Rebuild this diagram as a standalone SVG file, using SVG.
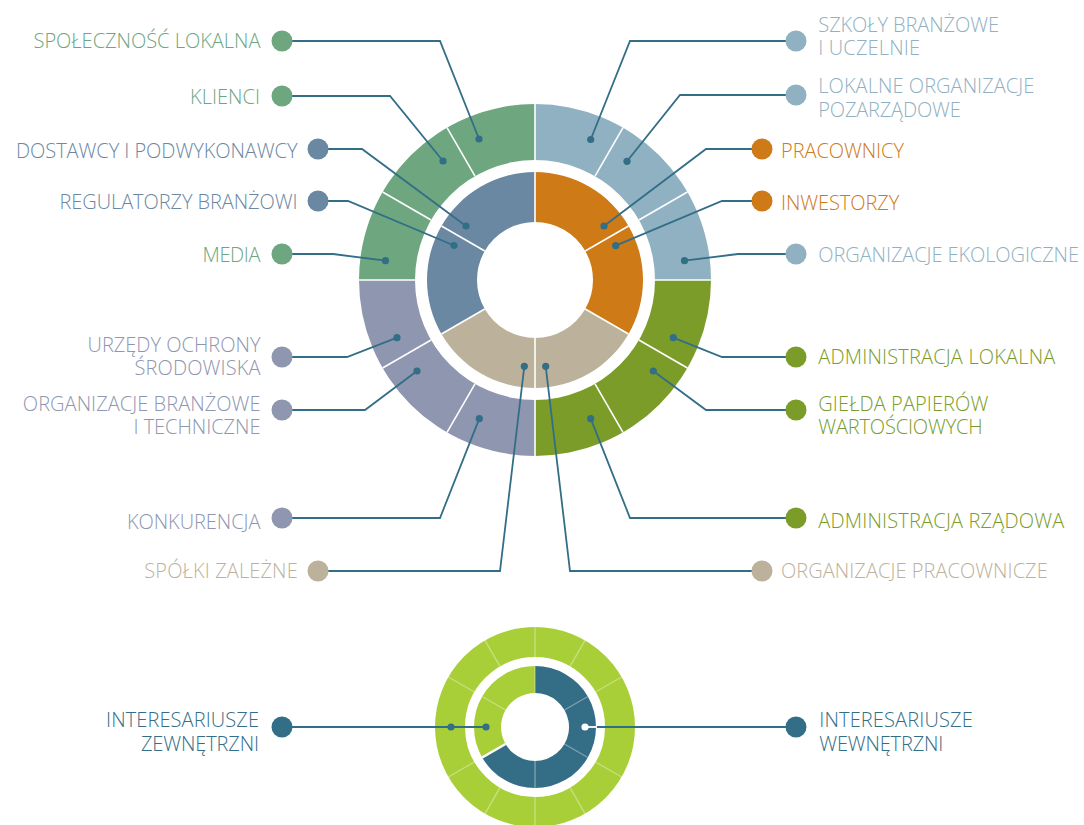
<svg xmlns="http://www.w3.org/2000/svg" width="1084" height="825" viewBox="0 0 1084 825">
<style>
text{font-family:"Open Sans","Liberation Sans",sans-serif;font-weight:300;font-size:20px}
.l{text-anchor:end}
.gr{fill:#6DA67F}.sl{fill:#6B88A3}.lb{fill:#8FB1C1}.or{fill:#CE7A16}.ol{fill:#7B9C29}.pu{fill:#8E96B0}.be{fill:#BCB29B}.te{fill:#336E87}
.div{stroke:#fff;stroke-width:1.6}
.fdiv{stroke:#fff;stroke-opacity:0.35;stroke-width:1.4}
.con{fill:none;stroke:#336E87;stroke-width:1.8}
.sd{fill:#336E87}
</style>
<rect width="1084" height="825" fill="#fff"/>
<g id="main-donut">
<path class="lb" d="M535,104 A176,176 0 0 1 711,280 L655,280 A120,120 0 0 0 535,160 Z"/>
<path class="ol" d="M711,280 A176,176 0 0 1 535,456 L535,400 A120,120 0 0 0 655,280 Z"/>
<path class="pu" d="M535,456 A176,176 0 0 1 359,280 L415,280 A120,120 0 0 0 535,400 Z"/>
<path class="gr" d="M359,280 A176,176 0 0 1 535,104 L535,160 A120,120 0 0 0 415,280 Z"/>
<g class="div">
<line x1="535" y1="160" x2="535" y2="104"/>
<line x1="595" y1="176.08" x2="623" y2="127.58"/>
<line x1="638.92" y1="220" x2="687.42" y2="192"/>
<line x1="655" y1="280" x2="711" y2="280"/>
<line x1="638.92" y1="340" x2="687.42" y2="368"/>
<line x1="595" y1="383.92" x2="623" y2="432.42"/>
<line x1="535" y1="400" x2="535" y2="456"/>
<line x1="475" y1="383.92" x2="447" y2="432.42"/>
<line x1="431.08" y1="340" x2="382.58" y2="368"/>
<line x1="415" y1="280" x2="359" y2="280"/>
<line x1="431.08" y1="220" x2="382.58" y2="192"/>
<line x1="475" y1="176.08" x2="447" y2="127.58"/>
</g>
<path class="or" d="M535,172 A108,108 0 0 1 628.53,334 L585.23,309 A58,58 0 0 0 535,222 Z"/>
<path class="be" d="M628.53,334 A108,108 0 0 1 441.47,334 L484.77,309 A58,58 0 0 0 585.23,309 Z"/>
<path class="sl" d="M441.47,334 A108,108 0 0 1 535,172 L535,222 A58,58 0 0 0 484.77,309 Z"/>
<g class="div">
<line x1="535" y1="222" x2="535" y2="172"/>
<line x1="585.23" y1="251" x2="628.53" y2="226"/>
<line x1="585.23" y1="309" x2="628.53" y2="334"/>
<line x1="535" y1="338" x2="535" y2="388"/>
<line x1="484.77" y1="309" x2="441.47" y2="334"/>
<line x1="484.77" y1="251" x2="441.47" y2="226"/>
</g>
</g>
<g id="small-donut">
<circle cx="535" cy="727" r="85" fill="none" stroke="#A8CF38" stroke-width="30"/>
<g class="fdiv">
<line x1="535" y1="697" x2="535" y2="627"/>
<line x1="570" y1="666.38" x2="585" y2="640.4"/>
<line x1="595.62" y1="692" x2="621.6" y2="677"/>
<line x1="605" y1="727" x2="635" y2="727"/>
<line x1="595.62" y1="762" x2="621.6" y2="777"/>
<line x1="570" y1="787.62" x2="585" y2="813.6"/>
<line x1="535" y1="797" x2="535" y2="827"/>
<line x1="500" y1="787.62" x2="485" y2="813.6"/>
<line x1="474.38" y1="762" x2="448.4" y2="777"/>
<line x1="465" y1="727" x2="435" y2="727"/>
<line x1="474.38" y1="692" x2="448.4" y2="677"/>
<line x1="500" y1="666.38" x2="485" y2="640.4"/>
</g>
<path fill="#346E86" d="M535,666 A61,61 0 1 1 482.17,757.5 L505.56,744 A34,34 0 1 0 535,693 Z"/>
<path fill="#A8CF38" d="M482.17,757.5 A61,61 0 0 1 535,666 L535,693 A34,34 0 0 0 505.56,744 Z"/>
<g class="fdiv">
<line x1="535" y1="693" x2="535" y2="666"/>
<line x1="564.44" y1="710" x2="587.83" y2="696.5"/>
<line x1="564.44" y1="744" x2="587.83" y2="757.5"/>
<line x1="535" y1="761" x2="535" y2="788"/>
<line x1="505.56" y1="710" x2="482.17" y2="696.5"/>
</g>
<line x1="505.56" y1="744" x2="482.17" y2="757.5" stroke="#fff" stroke-width="2.5"/>
</g>
<g id="connectors">
<polyline class="con" points="282,41 440,41 479,139"/>
<polyline class="con" points="282,96 390,96 443,161"/>
<polyline class="con" points="318,149 362,149 466,226"/>
<polyline class="con" points="318,201 348,201 454,245.5"/>
<polyline class="con" points="282,254 333,254 385.5,260.7"/>
<polyline class="con" points="282,357 347,357 397,337.7"/>
<polyline class="con" points="282,410 365,410 417,371"/>
<polyline class="con" points="282,518 440,518 479.3,418.7"/>
<polyline class="con" points="318,571 500,571 524.3,366.3"/>
<polyline class="con" points="796,41 630,41 590.7,139.5"/>
<polyline class="con" points="796,95 680,95 627,161.3"/>
<polyline class="con" points="762,149 706,149 604,226"/>
<polyline class="con" points="762,201 722,201 615.7,245.7"/>
<polyline class="con" points="796,254 738,254 684.5,260.7"/>
<polyline class="con" points="796,357 722,357 673.3,337.7"/>
<polyline class="con" points="796,410 706,410 653.3,371"/>
<polyline class="con" points="796,518 630,518 590.7,418.7"/>
<polyline class="con" points="762,571 570,571 545.7,366.3"/>
<line class="con" x1="282" y1="727" x2="486" y2="727"/>
<line class="con" x1="796" y1="727" x2="596" y2="727"/>
<line x1="597" y1="727" x2="585" y2="727" stroke="#fff" stroke-width="1.8"/>
<g class="sd">
<circle cx="479" cy="139" r="3.6"/>
<circle cx="443" cy="161" r="3.6"/>
<circle cx="466" cy="226" r="3.6"/>
<circle cx="454" cy="245.5" r="3.6"/>
<circle cx="385.5" cy="260.7" r="3.6"/>
<circle cx="397" cy="337.7" r="3.6"/>
<circle cx="417" cy="371" r="3.6"/>
<circle cx="479.3" cy="418.7" r="3.6"/>
<circle cx="524.3" cy="366.3" r="3.6"/>
<circle cx="590.7" cy="139.5" r="3.6"/>
<circle cx="627" cy="161.3" r="3.6"/>
<circle cx="604" cy="226" r="3.6"/>
<circle cx="615.7" cy="245.7" r="3.6"/>
<circle cx="684.5" cy="260.7" r="3.6"/>
<circle cx="673.3" cy="337.7" r="3.6"/>
<circle cx="653.3" cy="371" r="3.6"/>
<circle cx="590.7" cy="418.7" r="3.6"/>
<circle cx="545.7" cy="366.3" r="3.6"/>
<circle cx="451" cy="727" r="3.6"/>
<circle cx="486" cy="727" r="3.6"/>
</g>
<circle cx="585" cy="727" r="3.6" fill="#fff"/>
</g>
<g id="n-spolecznosc"><circle class="gr" cx="282" cy="41" r="10.5"/><text class="l gr" x="260.5" y="47.5" textLength="227">SPOŁECZNOŚĆ LOKALNA</text></g>
<g id="n-klienci"><circle class="gr" cx="282" cy="96" r="10.5"/><text class="l gr" x="260" y="104" textLength="70">KLIENCI</text></g>
<g id="n-dostawcy"><circle class="sl" cx="318" cy="149" r="10.5"/><text class="l sl" x="297.5" y="157.5" textLength="281.5">DOSTAWCY I PODWYKONAWCY</text></g>
<g id="n-regulatorzy"><circle class="sl" cx="318" cy="201" r="10.5"/><text class="l sl" x="297.5" y="209" textLength="238">REGULATORZY BRANŻOWI</text></g>
<g id="n-media"><circle class="gr" cx="282" cy="254" r="10.5"/><text class="l gr" x="260.5" y="262" textLength="58">MEDIA</text></g>
<g id="n-urzedy"><circle class="pu" cx="282" cy="357" r="10.5"/><text class="l pu" x="260.5" y="352" textLength="173">URZĘDY OCHRONY</text><text class="l pu" x="260.5" y="375" textLength="126">ŚRODOWISKA</text></g>
<g id="n-org-branzowe"><circle class="pu" cx="282" cy="410" r="10.5"/><text class="l pu" x="260.5" y="410.7" textLength="237.7">ORGANIZACJE BRANŻOWE</text><text class="l pu" x="260.5" y="434.3" textLength="127">I TECHNICZNE</text></g>
<g id="n-konkurencja"><circle class="pu" cx="282" cy="518" r="10.5"/><text class="l pu" x="260.5" y="529.3" textLength="133.6">KONKURENCJA</text></g>
<g id="n-spolki"><circle class="be" cx="318" cy="571" r="10.5"/><text class="l be" x="297.7" y="577.7" textLength="153.4">SPÓŁKI ZALEŻNE</text></g>
<g id="n-szkoly"><circle class="lb" cx="796" cy="41" r="10.5"/><text class="lb" x="818.3" y="31.7" textLength="180.7">SZKOŁY BRANŻOWE</text><text class="lb" x="818.3" y="55" textLength="101.7">I UCZELNIE</text></g>
<g id="n-lokalne-org"><circle class="lb" cx="796" cy="95" r="10.5"/><text class="lb" x="818.3" y="92.7" textLength="216">LOKALNE ORGANIZACJE</text><text class="lb" x="818.3" y="116.7" textLength="142.4">POZARZĄDOWE</text></g>
<g id="n-pracownicy"><circle class="or" cx="762" cy="149" r="10.5"/><text class="or" x="781" y="157.7" textLength="123">PRACOWNICY</text></g>
<g id="n-inwestorzy"><circle class="or" cx="762" cy="201" r="10.5"/><text class="or" x="781" y="210" textLength="118.3">INWESTORZY</text></g>
<g id="n-ekologiczne"><circle class="lb" cx="796" cy="254" r="10.5"/><text class="lb" x="818.3" y="261.7" textLength="260.7">ORGANIZACJE EKOLOGICZNE</text></g>
<g id="n-adm-lokalna"><circle class="ol" cx="796" cy="357" r="10.5"/><text class="ol" x="818.3" y="364" textLength="237">ADMINISTRACJA LOKALNA</text></g>
<g id="n-gielda"><circle class="ol" cx="796" cy="410" r="10.5"/><text class="ol" x="818.3" y="410.7" textLength="170">GIEŁDA PAPIERÓW</text><text class="ol" x="818.3" y="434.3" textLength="164.4">WARTOŚCIOWYCH</text></g>
<g id="n-adm-rzadowa"><circle class="ol" cx="796" cy="518" r="10.5"/><text class="ol" x="818.3" y="528.3" textLength="246">ADMINISTRACJA RZĄDOWA</text></g>
<g id="n-org-pracownicze"><circle class="be" cx="762" cy="571" r="10.5"/><text class="be" x="781" y="577.7" textLength="266.7">ORGANIZACJE PRACOWNICZE</text></g>
<g id="n-zewnetrzni"><circle class="te" cx="282" cy="727" r="10.5"/><text class="l te" x="259" y="727.3" textLength="153">INTERESARIUSZE</text><text class="l te" x="259" y="751" textLength="118">ZEWNĘTRZNI</text></g>
<g id="n-wewnetrzni"><circle class="te" cx="796" cy="727" r="10.5"/><text class="te" x="819.3" y="727.3" textLength="153.4">INTERESARIUSZE</text><text class="te" x="819.3" y="751" textLength="124">WEWNĘTRZNI</text></g>
</svg>
